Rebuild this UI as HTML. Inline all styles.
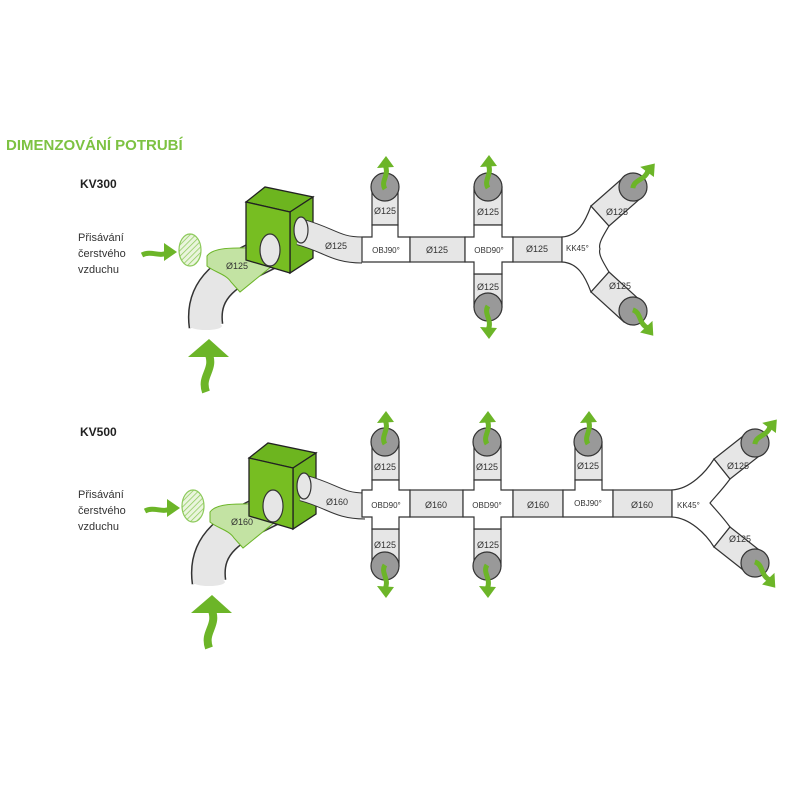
<!DOCTYPE html>
<html><head><meta charset="utf-8"><style>
html,body{margin:0;padding:0;background:#fff}
svg{display:block}
text{font-family:"Liberation Sans",sans-serif;}
</style></head><body>
<svg width="800" height="800" viewBox="0 0 800 800" xmlns="http://www.w3.org/2000/svg">
<defs>
<pattern id="hatch" width="4" height="4" patternUnits="userSpaceOnUse" patternTransform="rotate(45)">
<rect width="4" height="4" fill="#eaf5dd"/><line x1="0" y1="0" x2="0" y2="4" stroke="#8cc95a" stroke-width="1.5"/>
</pattern>
<g id="arrUp"><path d="M0,8 C-5,0 5,-6 0,-16" fill="none" stroke="#6cb528" stroke-width="5"/><polygon points="-8,-13 1,-25 9,-14" fill="#6cb528"/></g>
<g id="left">
 <path d="M142,255 C152,250 160,258 168,252" fill="none" stroke="#6cb528" stroke-width="5"/>
 <polygon points="164,243 177,252 164,261" fill="#6cb528"/>
 <ellipse cx="190" cy="250" rx="11" ry="16" fill="url(#hatch)" stroke="#8cc95a" stroke-width="1.2"/>
 <path d="M206,392 C200,375 216,370 208,352" fill="none" stroke="#6cb528" stroke-width="8"/>
 <polygon points="188,357 209,339 229,357" fill="#6cb528"/>
 <!-- elbow -->
 <path d="M270,252 C238,268 200,282 206,326" fill="none" stroke="#333" stroke-width="35"/>
 <path d="M270,252 C238,268 200,282 206,326" fill="none" stroke="#e6e6e6" stroke-width="32"/>
 <ellipse cx="206" cy="326" rx="16" ry="4" fill="#e6e6e6"/>
 <path d="M207,256 C214,246 240,248 262,248 L272,266 L240,292 L231,282 C226,274 214,272 207,266 Z" fill="#c3e3a3" stroke="#6cb528" stroke-width="1"/>
 <!-- box -->
 <polygon points="246,202 265,187 313,197 290,212" fill="#6db51f" stroke="#222" stroke-width="1.3"/>
 <polygon points="290,212 313,197 313,258 290,273" fill="#6db51f" stroke="#222" stroke-width="1.3"/>
 <polygon points="246,202 290,212 290,273 246,260" fill="#77be22" stroke="#222" stroke-width="1.3"/>
 <ellipse cx="270" cy="250" rx="10" ry="16" fill="#e6e6e6" stroke="#333" stroke-width="1.2"/>
 <path d="M300,232 C330,240 335,250 362,250" fill="none" stroke="#333" stroke-width="27"/>
 <path d="M300,232 C330,240 335,250 362,250" fill="none" stroke="#e6e6e6" stroke-width="25"/>
 <ellipse cx="301" cy="230" rx="7" ry="13" fill="#e6e6e6" stroke="#333" stroke-width="1.2"/>
</g>
</defs>

<text x="6" y="150" font-size="15" font-weight="bold" fill="#7dc242">DIMENZOVÁNÍ POTRUBÍ</text>
<text x="80" y="188" font-size="12" font-weight="bold" fill="#222">KV300</text>
<text x="80" y="436" font-size="12" font-weight="bold" fill="#222">KV500</text>

<use href="#left"/>
<text x="78" y="241" font-size="11" fill="#333">Přisávání</text>
<text x="78" y="257" font-size="11" fill="#333">čerstvého</text>
<text x="78" y="273" font-size="11" fill="#333">vzduchu</text>
<text x="226" y="269" font-size="9" fill="#333">Ø125</text>
<text x="325" y="249" font-size="9" fill="#333">Ø125</text>

<g stroke="#333" stroke-width="1.2">
 <rect x="372" y="187" width="26" height="38" fill="#e6e6e6"/>
 <path d="M362,237 H372 V225 H398 V237 H410 V262 H362 Z" fill="#fff"/>
 <circle cx="385" cy="187" r="14" fill="#999"/>
 <rect x="410" y="237" width="55" height="25" fill="#e6e6e6"/>
 <rect x="474" y="187" width="28" height="38" fill="#e6e6e6"/>
 <rect x="474" y="274" width="28" height="33" fill="#e6e6e6"/>
 <path d="M465,237 H474 V225 H502 V237 H513 V262 H502 V274 H474 V262 H465 Z" fill="#fff"/>
 <circle cx="488" cy="187" r="14" fill="#999"/>
 <circle cx="488" cy="307" r="14" fill="#999"/>
 <rect x="513" y="237" width="49" height="25" fill="#e6e6e6"/>
 <path d="M562,237 C578,236 585,222 591,206 L609,226 C603,236 598,244 600,249 C598,254 603,262 609,272 L591,292 C585,276 578,263 562,262 Z" fill="#fff"/>
 <polygon points="591,206 624,177 642,197 609,226" fill="#e6e6e6"/>
 <polygon points="609,272 642,302 624,322 591,292" fill="#e6e6e6"/>
 <circle cx="633" cy="187" r="14" fill="#999"/>
 <circle cx="633" cy="311" r="14" fill="#999"/>
</g>
<text x="386" y="253" font-size="8" fill="#333" text-anchor="middle">OBJ90°</text>
<text x="437" y="253" font-size="9" fill="#333" text-anchor="middle">Ø125</text>
<text x="489" y="253" font-size="8" fill="#333" text-anchor="middle">OBD90°</text>
<text x="537" y="252" font-size="9" fill="#333" text-anchor="middle">Ø125</text>
<text x="566" y="251" font-size="8" fill="#333">KK45°</text>
<text x="385" y="214" font-size="9" fill="#333" text-anchor="middle">Ø125</text>
<text x="488" y="215" font-size="9" fill="#333" text-anchor="middle">Ø125</text>
<text x="488" y="290" font-size="9" fill="#333" text-anchor="middle">Ø125</text>
<text x="617" y="215" font-size="9" fill="#333" text-anchor="middle">Ø125</text>
<text x="620" y="289" font-size="9" fill="#333" text-anchor="middle">Ø125</text>
<use href="#arrUp" x="385" y="181"/>
<use href="#arrUp" x="488" y="180"/>
<use href="#arrUp" transform="translate(488,314) scale(1,-1)"/>
<use href="#arrUp" transform="translate(638,182) rotate(40)"/>
<use href="#arrUp" transform="translate(638,316) rotate(140)"/>

<use href="#left" transform="translate(3,256)"/>
<text x="78" y="498" font-size="11" fill="#333">Přisávání</text>
<text x="78" y="514" font-size="11" fill="#333">čerstvého</text>
<text x="78" y="530" font-size="11" fill="#333">vzduchu</text>
<text x="231" y="525" font-size="9" fill="#333">Ø160</text>
<text x="326" y="505" font-size="9" fill="#333">Ø160</text>

<g stroke="#333" stroke-width="1.2">
 <rect x="372" y="442" width="27" height="38" fill="#e6e6e6"/>
 <rect x="372" y="529" width="27" height="37" fill="#e6e6e6"/>
 <path d="M362,490 H372 V480 H399 V490 H410 V517 H399 V529 H372 V517 H362 Z" fill="#fff"/>
 <circle cx="385" cy="442" r="14" fill="#999"/>
 <circle cx="385" cy="566" r="14" fill="#999"/>
 <rect x="410" y="490" width="53" height="27" fill="#e6e6e6"/>
 <rect x="474" y="442" width="27" height="38" fill="#e6e6e6"/>
 <rect x="474" y="529" width="27" height="37" fill="#e6e6e6"/>
 <path d="M463,490 H474 V480 H501 V490 H513 V517 H501 V529 H474 V517 H463 Z" fill="#fff"/>
 <circle cx="487" cy="442" r="14" fill="#999"/>
 <circle cx="487" cy="566" r="14" fill="#999"/>
 <rect x="513" y="490" width="50" height="27" fill="#e6e6e6"/>
 <rect x="575" y="442" width="27" height="38" fill="#e6e6e6"/>
 <path d="M563,490 H575 V480 H602 V490 H613 V517 H563 Z" fill="#fff"/>
 <circle cx="588" cy="442" r="14" fill="#999"/>
 <rect x="613" y="490" width="59" height="27" fill="#e6e6e6"/>
 <path d="M672,490 C690,489 706,472 714,459 L730,479 C722,490 714,498 710,503 C714,508 722,516 730,527 L714,547 C706,534 690,518 672,517 Z" fill="#fff"/>
 <polygon points="714,459 747,433 763,453 730,479" fill="#e6e6e6"/>
 <polygon points="730,527 763,553 747,573 714,547" fill="#e6e6e6"/>
 <circle cx="755" cy="443" r="14" fill="#999"/>
 <circle cx="755" cy="563" r="14" fill="#999"/>
</g>
<text x="386" y="508" font-size="8" fill="#333" text-anchor="middle">OBD90°</text>
<text x="436" y="508" font-size="9" fill="#333" text-anchor="middle">Ø160</text>
<text x="487" y="508" font-size="8" fill="#333" text-anchor="middle">OBD90°</text>
<text x="538" y="508" font-size="9" fill="#333" text-anchor="middle">Ø160</text>
<text x="588" y="506" font-size="8" fill="#333" text-anchor="middle">OBJ90°</text>
<text x="642" y="508" font-size="9" fill="#333" text-anchor="middle">Ø160</text>
<text x="677" y="508" font-size="8" fill="#333">KK45°</text>
<text x="385" y="470" font-size="9" fill="#333" text-anchor="middle">Ø125</text>
<text x="487" y="470" font-size="9" fill="#333" text-anchor="middle">Ø125</text>
<text x="588" y="469" font-size="9" fill="#333" text-anchor="middle">Ø125</text>
<text x="385" y="548" font-size="9" fill="#333" text-anchor="middle">Ø125</text>
<text x="488" y="548" font-size="9" fill="#333" text-anchor="middle">Ø125</text>
<text x="738" y="469" font-size="9" fill="#333" text-anchor="middle">Ø125</text>
<text x="740" y="542" font-size="9" fill="#333" text-anchor="middle">Ø125</text>
<use href="#arrUp" x="385" y="436"/>
<use href="#arrUp" x="487" y="436"/>
<use href="#arrUp" x="588" y="436"/>
<use href="#arrUp" transform="translate(385,573) scale(1,-1)"/>
<use href="#arrUp" transform="translate(487,573) scale(1,-1)"/>
<use href="#arrUp" transform="translate(760,438) rotate(40)"/>
<use href="#arrUp" transform="translate(760,568) rotate(140)"/>
</svg>
</body></html>
